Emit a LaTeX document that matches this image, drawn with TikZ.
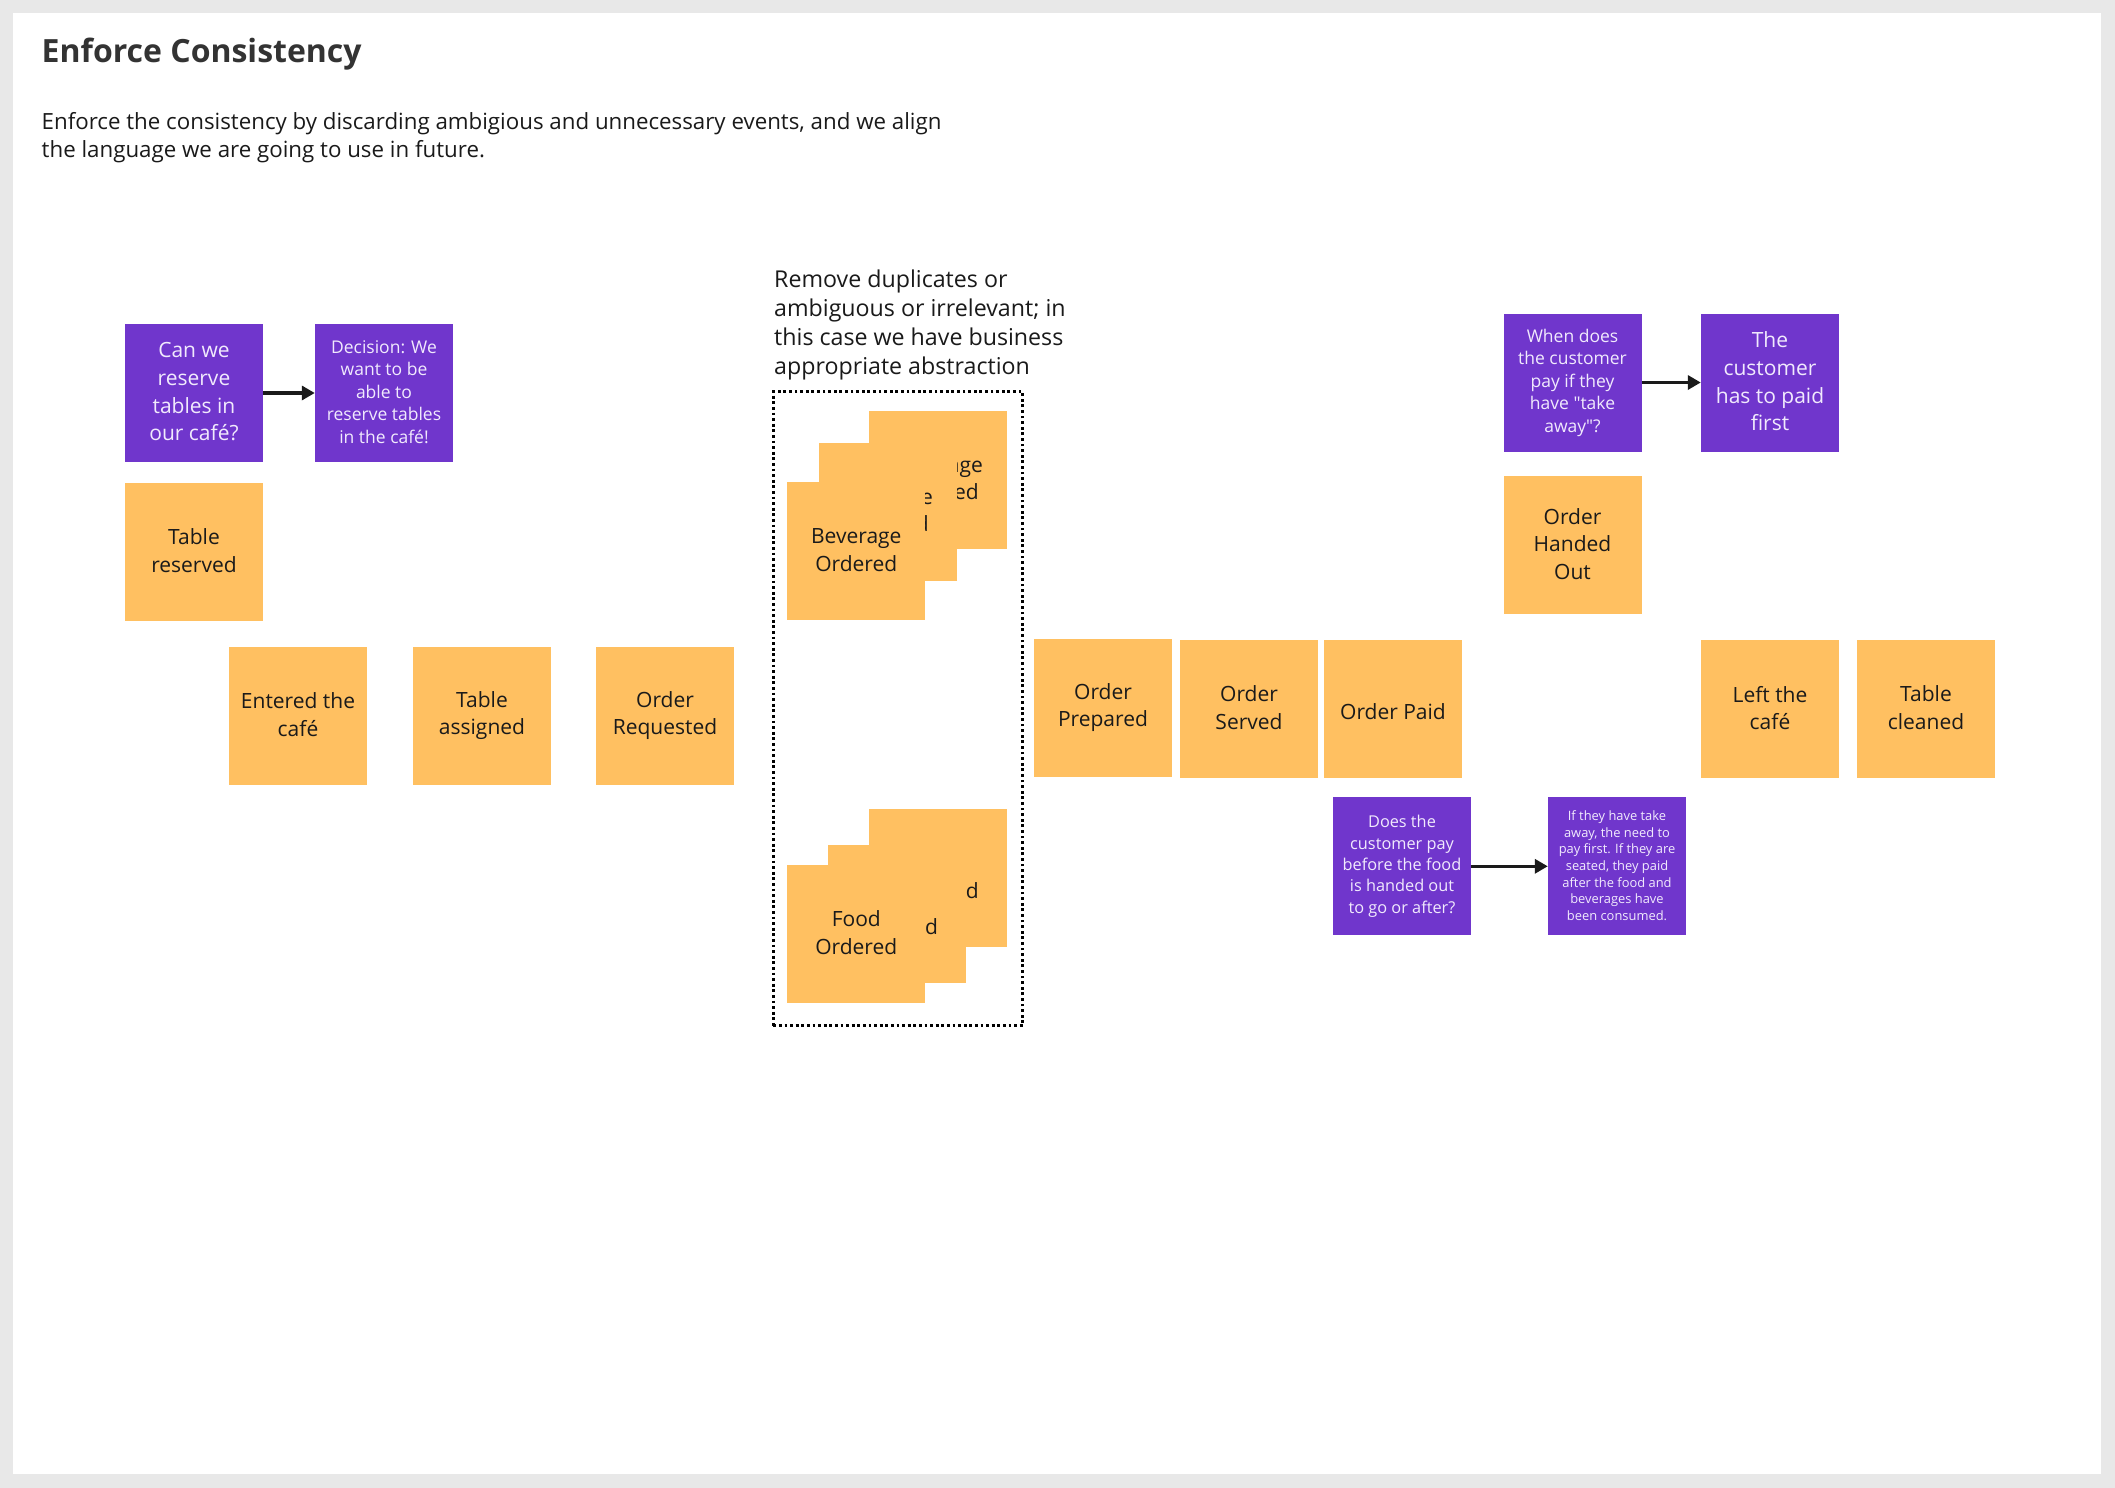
\documentclass[tikz,border=0pt]{standalone}
\usepackage{fontspec}
\setmainfont{Open Sans}
\usetikzlibrary{arrows.meta}

\definecolor{canvas}{HTML}{E8E8E8}
\definecolor{sticky}{HTML}{FFC061}
\definecolor{violet}{HTML}{7036CC}
\definecolor{violettext}{HTML}{F1EAFD}
\definecolor{ink}{HTML}{1A1A1A}
\definecolor{heading}{HTML}{333333}

% fixed line box so that descenders do not move the text block
\newcommand{\linebox}{\rule[-0.12em]{0pt}{1.25em}}

\tikzset{
  note/.style={minimum width=138pt, minimum height=138pt, inner sep=0pt,
    align=center, text=ink,
    execute at begin node=\linebox, execute at end node=\linebox},
  event/.style={note, fill=sticky, font=\fontsize{21}{27.5}\selectfont},
  question/.style={note, fill=violet, text=violettext},
  qlarge/.style={question, font=\fontsize{21}{27.7}\selectfont},
  qmedium/.style={question, font=\fontsize{17.5}{22.5}\selectfont},
  qsmall/.style={question, font=\fontsize{16.3}{21.3}\selectfont},
  qtiny/.style={question, font=\fontsize{12.9}{16.7}\selectfont},
  link/.style={draw=ink, line width=3.3pt,
    -{Triangle[length=13pt, width=14pt]}},
  groupframe/.style={draw=black, line width=2.8pt,
    dash pattern=on 2.8pt off 2.8pt, inner sep=0pt},
  bodytext/.style={inner sep=0pt, align=left, text=ink,
    font=\fontsize{22.3}{28.5}\selectfont},
}

\begin{document}
\begin{tikzpicture}[x=1pt, y=-1pt]
  % page background and white board
  \fill[canvas] (0,0) rectangle (2115,1488);
  \fill[white] (12.7,12.7) rectangle (2101,1474);
  \useasboundingbox (0,0) rectangle (2115,1488);

  % heading and introduction
  \node[anchor=base west, inner sep=0pt, text=heading,
        font=\fontsize{32}{38}\selectfont\bfseries] (title) at (41.5,62.7)
        {Enforce Consistency};
  \node[bodytext, anchor=north west] (intro) at (41.5,111.8)
        {Enforce the consistency by discarding ambigious and unnecessary events, and we align\\
         the language we are going to use in future.};

  % reservation question
  \node[qlarge]  (canwe)    at (194,393) {Can we\\reserve\\tables in\\our café?};
  \node[qmedium] (decision) at (384,393) {Decision: We\\want to be\\able to\\reserve tables\\in the café!};
  \draw[link] (canwe.east) -- (decision.west);
  \node[event] (reserved) at (194,551.7) {Table\\reserved};

  % main timeline, first part
  \node[event] (entered)   at (298,715.7) {Entered the\\café};
  \node[event] (assigned)  at (482,715.7) {Table\\assigned};
  \node[event] (requested) at (665,715.7) {Order\\Requested};

  % duplicates collapsed into one event each
  \node[bodytext, anchor=north west, font=\fontsize{23.2}{29}\selectfont] (remove)
        at (774,269.3)
        {Remove duplicates or\\ambiguous or irrelevant; in\\this case we have business\\appropriate abstraction};
  \node[groupframe, minimum width=249.4pt, minimum height=634pt] (dedup) at (898,708.7) {};

  \node[event] (bevA) at (937.7,480)   {Beverage\\Ordered};
  \node[event] (bevB) at (887.8,511.7) {Beverage\\Ordered};
  \node[event] (bevC) at (856.3,551.3) {Beverage\\Ordered};

  \node[event] (foodA) at (937.7,877.8) {Food\\Ordered};
  \node[event] (foodB) at (897,914.2)   {Food\\Ordered};
  \node[event] (foodC) at (856.3,933.8) {Food\\Ordered};

  % main timeline, second part
  \node[event] (prepared) at (1103,707.5) {Order\\Prepared};
  \node[event] (served)   at (1249,709)   {Order\\Served};
  \node[event] (paid)     at (1393,709)   {Order Paid};
  \node[event] (left)     at (1770,709)   {Left the\\café};
  \node[event] (cleaned)  at (1926,709)   {Table\\cleaned};

  % take-away questions
  \node[qmedium] (whenpay)  at (1572.5,382.5) {When does\\the customer\\pay if they\\have \textquotedbl take\\away\textquotedbl ?};
  \node[qlarge]  (payfirst) at (1770,382.5)   {The\\customer\\has to paid\\first};
  \draw[link] (whenpay.east) -- (payfirst.west);
  \node[event] (handed) at (1572.5,545) {Order\\Handed\\Out};

  \node[qsmall] (beforeafter) at (1402,866.3) {Does the\\customer pay\\before the food\\is handed out\\to go or after?};
  \node[qtiny]  (answer)      at (1617,866.3) {If they have take\\away, the need to\\pay first. If they are\\seated, they paid\\after the food and\\beverages have\\been consumed.};
  \draw[link] (beforeafter.east) -- (answer.west);
\end{tikzpicture}
\end{document}
